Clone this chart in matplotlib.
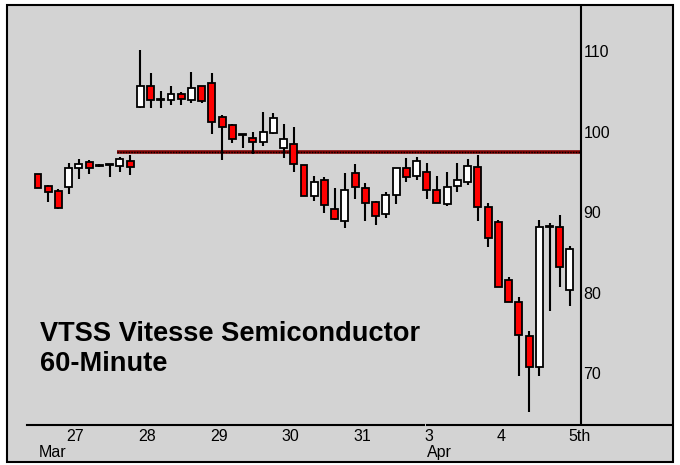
import matplotlib
matplotlib.use("Agg")
import matplotlib.pyplot as plt
from matplotlib.patches import Rectangle

# hourly bars, Mar 26 (partial) .. Apr 5 (first bar)
opens = [94.9, 93.4, 92.8,
         93.3, 95.7, 96.4, 95.9, 96.0, 95.9, 96.5,
         103.2, 105.8, 104.1, 104.1, 104.8, 104.1, 105.8,
         106.2, 102.0, 101.0, 99.7, 99.4, 98.9, 100.0,
         98.1, 98.6, 96.0, 92.2, 94.2, 90.6, 89.1,
         95.0, 93.2, 91.4, 89.9, 92.3, 95.7, 94.7,
         95.2, 92.9, 91.2, 93.4, 93.9, 95.8, 90.8,
         88.9, 81.7, 79.0, 74.8, 70.9, 88.3, 88.3,
         80.5]
highs = [94.9, 93.6, 93.0,
         96.3, 96.8, 96.6, 96.2, 96.0, 97.0, 97.3,
         110.3, 107.5, 105.2, 105.8, 105.1, 107.6, 105.8,
         107.5, 102.2, 101.1, 99.8, 100.1, 102.6, 102.5,
         101.1, 100.7, 96.0, 94.7, 94.5, 93.2, 95.0,
         96.1, 93.8, 91.6, 92.7, 95.7, 96.9, 97.0,
         96.3, 94.7, 95.2, 96.3, 96.8, 97.3, 91.3,
         89.2, 82.1, 79.6, 75.4, 89.2, 88.8, 89.8,
         86.0]
lows = [93.2, 91.4, 90.6,
        92.4, 94.3, 94.9, 95.8, 94.5, 95.2, 94.8,
        103.1, 103.1, 103.1, 103.5, 103.5, 103.7, 103.7,
        99.9, 96.6, 98.8, 98.1, 97.4, 98.4, 99.9,
        96.9, 95.2, 92.2, 91.6, 90.1, 89.2, 88.2,
        91.8, 89.1, 88.6, 89.4, 91.2, 93.9, 94.2,
        91.8, 91.3, 90.9, 92.7, 93.5, 89.1, 85.8,
        80.9, 79.0, 69.8, 65.3, 69.8, 77.9, 80.9,
        78.5]
closes = [93.2, 92.7, 90.7,
          95.7, 96.1, 95.7, 95.9, 96.0, 96.8, 95.8,
          105.8, 104.1, 104.1, 104.8, 104.2, 105.6, 104.0,
          101.4, 100.7, 99.3, 99.7, 98.9, 100.1, 101.9,
          99.3, 96.1, 92.2, 93.9, 91.1, 89.3, 92.9,
          93.3, 91.3, 89.7, 92.3, 95.7, 94.5, 96.5,
          92.9, 91.3, 93.3, 94.2, 95.9, 90.8, 87.0,
          80.9, 79.0, 74.9, 70.9, 88.3, 88.3, 83.4,
          85.6]

day_labels = ["27", "28", "29", "30", "31", "3", "4", "5th"]
day_starts = [3, 10, 17, 24, 31, 38, 45, 52]
month_labels = ["Mar", "Apr"]
month_starts = [0, 38]
yticks = [70, 80, 90, 100, 110]
resistance = 97.6

plt.rcParams['font.family'] = ['Liberation Sans', 'DejaVu Sans']

W, H = 680, 465
fig = plt.figure(figsize=(W / 100, H / 100), dpi=100)
fig.patch.set_facecolor("white")

# gray panel with black border, kept under the axes
fig.patches.append(Rectangle((7 / W, (H - 462) / H), 666 / W, 457 / H,
                             transform=fig.transFigure, facecolor="#d3d3d3",
                             edgecolor="black", linewidth=1.5, zorder=-5))

ax = fig.add_axes([27 / W, (H - 425) / H, 647 / W, 420 / H])
ax.set_zorder(1)
ax.set_facecolor("none")
for s in ax.spines.values():
    s.set_visible(False)
ax.set_xlim(-1.075, 62.17)
ax.set_ylim(63.73, 115.9)
ax.set_xticks([])
ax.set_yticks([])

axis_x = 53.08

# resistance line
ax.plot([7.75, axis_x], [resistance, resistance], color="#800000",
        linewidth=2.6, solid_capstyle="butt", zorder=2)
ax.plot([7.75, axis_x], [resistance, resistance], color="black",
        linewidth=1.0, linestyle=(0, (1, 1)), zorder=2)

# candles
xs = list(range(len(opens)))
ax.vlines(xs, lows, highs, color="black", linewidth=1.5, zorder=3)
bottoms = [min(o, c) for o, c in zip(opens, closes)]
heights = [max(abs(c - o), 0.12) for o, c in zip(opens, closes)]
colors = []
for o, c in zip(opens, closes):
    if c > o:
        colors.append("white")
    elif c < o:
        colors.append("#ff0000")
    else:
        colors.append("black")
ax.bar(xs, heights, bottom=bottoms, width=0.68, color=colors,
       edgecolor="black", linewidth=1.3, zorder=4)

# axes lines
ax.axvline(axis_x, ymin=0, ymax=1, color="black", linewidth=1.5, zorder=5)
ax.plot([-1.075, 37.72], [63.73, 63.73], color="black", linewidth=1.5,
        clip_on=False, zorder=5)
ax.plot([38.02, 61.95], [63.73, 63.73], color="black", linewidth=1.5,
        clip_on=False, zorder=5)

# price labels
for v in yticks:
    ax.text(axis_x + 0.25, v, str(v), ha="left", va="center",
            fontsize=11.5, color="black")

# date labels
for lab, i in zip(day_labels, day_starts):
    ax.text(i - 0.2, 63.2, lab, ha="left", va="top", fontsize=11.5,
            clip_on=False)
for lab, i in zip(month_labels, month_starts):
    ax.text(i + 0.05, 61.2, lab, ha="left", va="top", fontsize=11.5,
            clip_on=False)

ax.text(0.2, 100 - (341 - 133) / 8.05, "VTSS Vitesse Semiconductor",
        fontsize=19.6, fontweight="bold", ha="left", va="baseline")
ax.text(0.2, 100 - (371 - 133) / 8.05, "60-Minute",
        fontsize=19.6, fontweight="bold", ha="left", va="baseline")

fig.savefig("out.png", dpi=100)
